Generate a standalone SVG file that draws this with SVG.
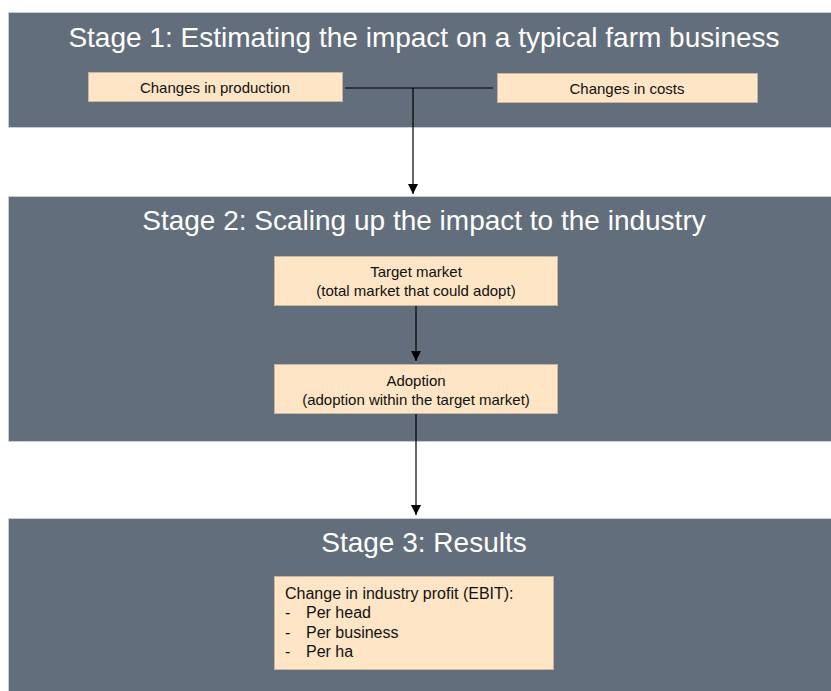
<svg xmlns="http://www.w3.org/2000/svg" width="831" height="691" viewBox="0 0 831 691">
  <defs>
    <marker id="arrow" viewBox="0 0 10 10" refX="10" refY="5" markerWidth="10" markerHeight="10" markerUnits="userSpaceOnUse" orient="auto">
      <path d="M0,0 L10,5 L0,10 z" fill="#000"/>
    </marker>
    <style>
      .panel { fill: #636e7c; stroke: #c9ced4; stroke-width: 1; }
      .title { font-family: "Liberation Sans", Arial, sans-serif; font-size: 28px; fill: #ffffff; text-anchor: middle; }
      .box { fill: #fde5c5; stroke: #c7b69c; stroke-width: 1; }
      .label { font-family: "Liberation Sans", Arial, sans-serif; font-size: 15px; fill: #111; text-anchor: middle; }
      .list { font-family: "Liberation Sans", Arial, sans-serif; font-size: 16px; fill: #111; }
      .conn { fill: none; stroke: #000; stroke-width: 1.2; }
    </style>
  </defs>
  <rect width="831" height="691" fill="#ffffff"/>

  <!-- Stage panels -->
  <g id="stage1">
    <rect class="panel" x="8.5" y="12.5" width="830" height="115"/>
    <text class="title" x="424" y="47">Stage 1: Estimating the impact on a typical farm business</text>
  </g>
  <g id="stage2">
    <rect class="panel" x="8.5" y="196.5" width="830" height="245"/>
    <text class="title" x="424" y="230">Stage 2: Scaling up the impact to the industry</text>
  </g>
  <g id="stage3">
    <rect class="panel" x="8.5" y="518.5" width="830" height="180"/>
    <text class="title" x="424" y="552">Stage 3: Results</text>
  </g>

  <!-- Boxes -->
  <g id="production">
    <rect class="box" x="88.5" y="72.5" width="254" height="29"/>
    <text class="label" x="215" y="92.5">Changes in production</text>
  </g>
  <g id="costs">
    <rect class="box" x="497.5" y="73.5" width="260" height="29"/>
    <text class="label" x="627" y="93.5">Changes in costs</text>
  </g>
  <g id="target-market">
    <rect class="box" x="274.5" y="256.5" width="283" height="49"/>
    <text class="label" x="416" y="277">Target market</text>
    <text class="label" x="416" y="296">(total market that could adopt)</text>
  </g>
  <g id="adoption">
    <rect class="box" x="274.5" y="364.5" width="283" height="49"/>
    <text class="label" x="416" y="386">Adoption</text>
    <text class="label" x="416" y="405">(adoption within the target market)</text>
  </g>
  <g id="results">
    <rect class="box" x="274.5" y="576.5" width="279" height="93"/>
    <text class="list" x="285" y="598.5">Change in industry profit (EBIT):</text>
    <text class="list" x="285" y="618">-</text>
    <text class="list" x="306" y="618">Per head</text>
    <text class="list" x="285" y="637.5">-</text>
    <text class="list" x="306" y="637.5">Per business</text>
    <text class="list" x="285" y="657">-</text>
    <text class="list" x="306" y="657">Per ha</text>
  </g>

  <!-- Connectors -->
  <g id="connectors">
    <path class="conn" d="M345,88 H493"/>
    <path class="conn" d="M413,88 V194" marker-end="url(#arrow)"/>
    <path class="conn" d="M416,306 V361" marker-end="url(#arrow)"/>
    <path class="conn" d="M416,414 V515" marker-end="url(#arrow)"/>
  </g>
</svg>
